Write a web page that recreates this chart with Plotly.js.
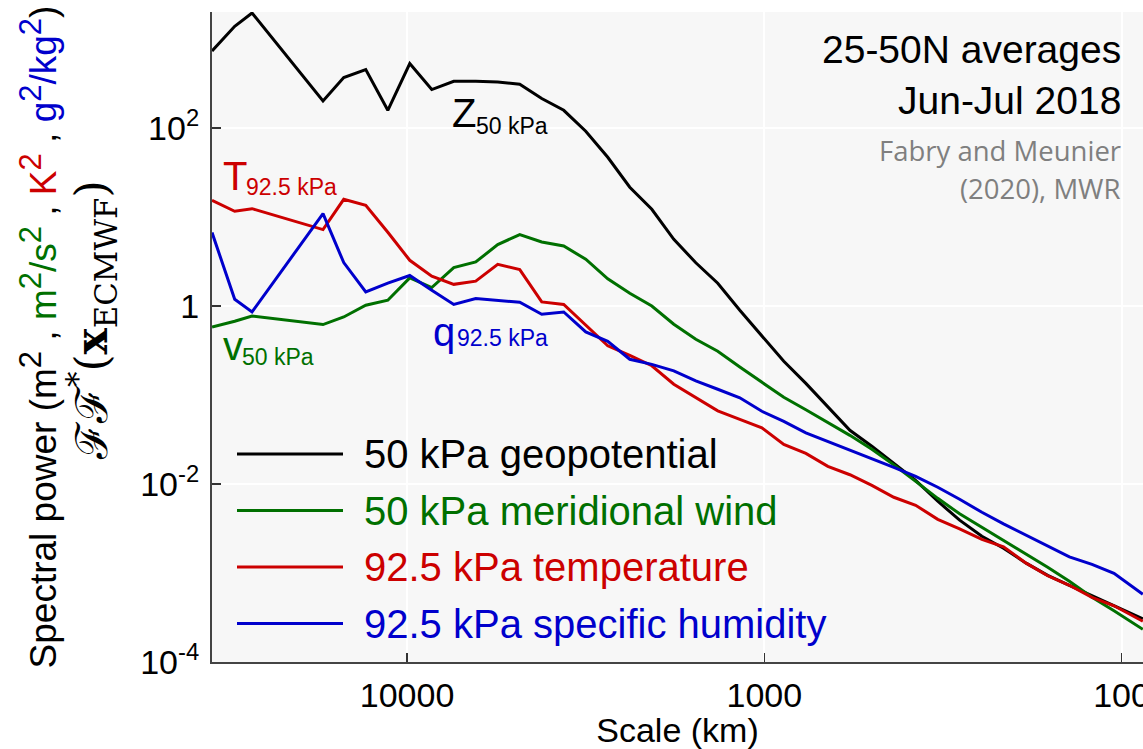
<!DOCTYPE html>
<html>
<head>
<meta charset="utf-8">
<script src="https://cdn.plot.ly/plotly-3.0.1.min.js"></script>
<style>
html,body{margin:0;padding:0;background:#ffffff;}
#chart{width:1143px;height:749px;}
</style>
</head>
<body>
<div id="chart"></div>
<script>
// ---- data ----
const scaleKm = [35150, 30370, 27160, 17190, 15040, 13050, 11320, 9827, 8528, 7401, 6423, 5574, 4837, 4198, 3643, 3161, 2743, 2380, 2065, 1792, 1555, 1350, 1171, 1016, 882, 765, 664, 576, 500, 434, 377, 327, 284, 246, 214, 185, 161, 140, 121, 105, 87.2];

const geopotential50 = [733, 1390, 1960, 201, 368, 453, 158, 530, 270, 335, 335, 329, 310, 214, 158, 91.8, 46.9, 21.6, 12.2, 5.61, 3.06, 1.80, 0.895, 0.457, 0.239, 0.135, 0.0746, 0.0401, 0.0266, 0.0169, 0.0110, 0.00640, 0.00392, 0.00259, 0.00190, 0.00129, 0.000942, 0.000728, 0.000555, 0.000434, 0.000306];

const meridionalWind50 = [0.581, 0.673, 0.772, 0.618, 0.752, 1.02, 1.16, 2.07, 1.61, 2.70, 3.12, 4.90, 6.34, 5.24, 4.72, 3.35, 2.02, 1.39, 1.00, 0.623, 0.423, 0.310, 0.206, 0.139, 0.0942, 0.0682, 0.0493, 0.0352, 0.0245, 0.0164, 0.0107, 0.00690, 0.00462, 0.00326, 0.00236, 0.00166, 0.00116, 0.000807, 0.000533, 0.000376, 0.000233];

const temperature925 = [15.4, 11.6, 12.4, 7.22, 15.8, 13.5, 6.73, 3.26, 2.16, 1.75, 1.90, 2.94, 2.56, 1.11, 1.04, 0.607, 0.357, 0.279, 0.213, 0.132, 0.0942, 0.0664, 0.0533, 0.0428, 0.0279, 0.0221, 0.0158, 0.0127, 0.00966, 0.00709, 0.00577, 0.00401, 0.00314, 0.00239, 0.00197, 0.00129, 0.000931, 0.000728, 0.000533, 0.000428, 0.000287];

const humidity925 = [6.68, 1.19, 0.857, 10.9, 3.07, 1.44, 1.81, 2.20, 1.50, 1.04, 1.21, 1.16, 1.10, 0.807, 0.857, 0.511, 0.401, 0.252, 0.221, 0.187, 0.144, 0.116, 0.0931, 0.0656, 0.0506, 0.0376, 0.0302, 0.0242, 0.0194, 0.0154, 0.0122, 0.00919, 0.00673, 0.00481, 0.00357, 0.00265, 0.00202, 0.00152, 0.00125, 0.000993, 0.000577];

const seriesNames = ["50 kPa geopotential", "50 kPa meridional wind", "92.5 kPa temperature", "92.5 kPa specific humidity"];
const seriesColors = ["#000000", "#007000", "#cc0000", "#0000cc"];
const seriesValues = [geopotential50, meridionalWind50, temperature925, humidity925];

const xTickVals = [10000, 1000, 100];
const xTickText = ["10000", "1000", "100"];
const yTickVals = [1e-4, 1e-2, 1, 1e2];
const yTickText = ["10<sup>-4</sup>", "10<sup>-2</sup>", "1", "10<sup>2</sup>"];

// ---- layout helpers (pixel -> paper) ----
const W = 1143, H = 749;
const M = {l: 212, r: 0, t: 12, b: 87};
const PW = W - M.l - M.r, PH = H - M.t - M.b;
const px = x => (x - M.l) / PW;
const py = y => (H - M.b - y) / PH;

const SANS = "Liberation Sans, Arial, Helvetica, sans-serif";
const NARROW = "Liberation Sans Narrow, Arial Narrow, Liberation Sans, Arial, sans-serif";

const traces = seriesValues.map((vals, i) => ({
  type: "scatter",
  mode: "lines",
  name: seriesNames[i],
  x: scaleKm,
  y: vals,
  line: {color: seriesColors[i], width: 3},
  hoverinfo: "x+y+name"
}));

const annotations = [];
const shapes = [];

// in-plot series labels
function label(main, sub, color, xMain, yMain, xSub, ySub) {
  annotations.push({xref: "paper", yref: "paper", x: px(xMain), y: py(yMain), xanchor: "left", yanchor: "middle",
    text: main, showarrow: false, font: {family: SANS, size: 40, color: color}});
  annotations.push({xref: "paper", yref: "paper", x: px(xSub), y: py(ySub), xanchor: "left", yanchor: "middle",
    text: sub, showarrow: false, font: {family: SANS, size: 23, color: color}});
}
label("Z", "50 kPa", seriesColors[0], 450, 113, 474, 126);
label("T", "92.5 kPa", seriesColors[2], 221, 176, 244, 187);
label("q", "92.5 kPa", seriesColors[3], 431, 332, 455, 338);
label("v", "50 kPa", seriesColors[1], 221, 346, 240, 357);

// top-right notes
annotations.push({xref: "paper", yref: "paper", x: px(1123), y: py(50), xanchor: "right", yanchor: "middle",
  text: "25-50N averages", showarrow: false, font: {family: SANS, size: 39, color: "#000"}});
annotations.push({xref: "paper", yref: "paper", x: px(1123), y: py(100), xanchor: "right", yanchor: "middle",
  text: "Jun-Jul 2018", showarrow: false, font: {family: SANS, size: 39, color: "#000"}});
annotations.push({xref: "paper", yref: "paper", x: px(1123), y: py(150), xanchor: "right", yanchor: "middle",
  text: "Fabry and Meunier", showarrow: false, font: {family: "Open Sans, Noto Sans, sans-serif", size: 27.5, color: "#7f7f7f"}});
annotations.push({xref: "paper", yref: "paper", x: px(1123), y: py(188), xanchor: "right", yanchor: "middle",
  text: "(2020), MWR", showarrow: false, font: {family: "Open Sans, Noto Sans, sans-serif", size: 27.5, color: "#7f7f7f"}});

// legend drawn as line samples + labels
const legendY = [454, 510.5, 567, 623.5];
seriesNames.forEach((n, i) => {
  shapes.push({type: "line", xref: "paper", yref: "paper", x0: px(237), x1: px(343), y0: py(legendY[i]), y1: py(legendY[i]),
    line: {color: seriesColors[i], width: 3}});
  annotations.push({xref: "paper", yref: "paper", x: px(362), y: py(legendY[i]), xanchor: "left", yanchor: "middle",
    text: n, showarrow: false, font: {family: SANS, size: 40, color: seriesColors[i]}});
});

// second line of the y-axis title (operator notation)
annotations.push({xref: "paper", yref: "paper", x: px(92), y: py(320), xanchor: "center", yanchor: "middle",
  textangle: -90, showarrow: false,
  text: 'ℱℱ<sup>*</sup>(<b>x</b><sub>ECMWF</sub>)',
  font: {family: "DejaVu Serif, Liberation Serif, serif", size: 44, color: "#000"}});

const S2 = '<sup><span style="font-size:31px">2</span></sup>';
const yTitle = 'Spectral power (m' + S2 + ' , <span style="color:#007000">m' + S2 + '/s' + S2 + '</span> , ' +
  '<span style="color:#cc0000">K' + S2 + '</span> , <span style="color:#0000cc">g' + S2 + '/kg' + S2 + '</span>)';

const layout = {
  width: W, height: H,
  margin: {l: M.l, r: M.r, t: M.t, b: M.b, pad: 0},
  paper_bgcolor: "#ffffff",
  plot_bgcolor: "#f7f7f7",
  showlegend: false,
  font: {family: SANS, color: "#000"},
  xaxis: {
    type: "log", range: [4.546, 1.940],
    tickvals: xTickVals, ticktext: xTickText,
    ticks: "inside", ticklen: 9, tickwidth: 1.5, tickcolor: "#333",
    showline: true, linecolor: "#444", linewidth: 2,
    showgrid: true, gridcolor: "#ffffff", gridwidth: 2, zeroline: false,
    tickfont: {family: NARROW, size: 34, color: "#000"},
    ticklabelstandoff: 2, ticklabeloverflow: "allow",
    title: {text: "Scale (km)", font: {family: NARROW, size: 34, color: "#000"}, standoff: 4}
  },
  yaxis: {
    type: "log", range: [-4, 3.303],
    tickvals: yTickVals, ticktext: yTickText,
    ticks: "inside", ticklen: 9, tickwidth: 1.5, tickcolor: "#333",
    showline: true, linecolor: "#444", linewidth: 2,
    showgrid: true, gridcolor: "#ffffff", gridwidth: 2, zeroline: false,
    tickfont: {family: NARROW, size: 34, color: "#000"},
    ticklabelstandoff: 4,
    title: {text: yTitle, font: {family: SANS, size: 37, color: "#000"}, standoff: 72}
  },
  annotations: annotations,
  shapes: shapes
};

Plotly.newPlot("chart", traces, layout, {displayModeBar: false, staticPlot: true});
</script>
</body>
</html>
